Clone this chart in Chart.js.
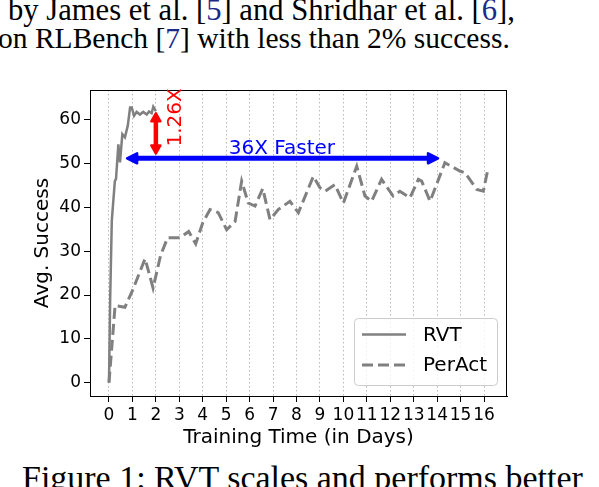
<!DOCTYPE html>
<html><head><meta charset="utf-8">
<script src="https://cdn.jsdelivr.net/npm/chart.js@4/dist/chart.umd.min.js"></script>
<style>
html,body{margin:0;padding:0;background:#fff;overflow:hidden}
#wrap{position:relative;width:599px;height:487px;overflow:hidden;background:#fff}
canvas{position:absolute;left:0;top:0}
.t{position:absolute;font-family:"Liberation Serif","Times New Roman",serif;white-space:nowrap;color:#000;line-height:1;top:0;left:0}
.c{color:#1a2a8a}
</style></head><body>
<div id="wrap">
<div class="t" id="l1" data-l="8" data-r="515" data-b="21">by James et al. [<span class="c">5</span>] and Shridhar et al. [<span class="c">6</span>],</div>
<div class="t" id="l2" data-l="-2" data-r="510" data-b="49">on RLBench [<span class="c">7</span>] with less than 2% success.</div>
<div class="t" id="l3" data-l="22" data-r="583" data-b="489">Figure 1: RVT scales and performs better</div>
<canvas id="c" width="599" height="487"></canvas>
</div>
<script>
// ---- data ----
const rvtDays    = [0, 0.05, 0.12, 0.25, 0.30, 0.40, 0.47, 0.57, 0.68, 0.80, 0.90, 0.97, 1.07, 1.18, 1.32, 1.46, 1.61, 1.71, 1.82, 1.89, 2.00];
const rvtSuccess = [0, 19, 37, 46, 46.5, 54.4, 50.3, 56.7, 56, 58.6, 62.8, 62.8, 60.9, 61.8, 61.2, 61.8, 61.2, 61.9, 61.5, 63, 62];
const peractDays    = [0, 0.26, 0.68, 1.0, 1.54, 1.88, 2.2, 2.5, 3.03, 3.4, 3.7, 4.0, 4.31, 4.66, 5.02, 5.38, 5.66, 5.94, 6.23, 6.56, 6.87, 7.22, 7.72, 8.08, 8.72, 9.0, 9.22, 9.64, 10.0, 10.57, 10.92, 11.2, 11.63, 12.12, 12.41, 12.84, 13.2, 13.34, 13.7, 14.33, 14.97, 15.19, 15.69, 15.97, 16.18];
const peractSuccess = [0, 17.6, 17.2, 21, 28.3, 21.6, 29, 33.1, 33.1, 34.5, 31.7, 36.5, 39.5, 38.8, 34.9, 36.8, 46.0, 41.0, 40.3, 44.3, 37.2, 39.5, 41.4, 38.8, 47.1, 44.5, 43.7, 45.2, 41.0, 49.4, 42.6, 41.4, 46.4, 42.6, 43.7, 42.2, 46.4, 46, 41.4, 50.2, 48.3, 47.9, 44.1, 43.7, 49.1];
const xTickLabels = [0,1,2,3,4,5,6,7,8,9,10,11,12,13,14,15,16];
const yTickLabels = [0,10,20,30,40,50,60];
const seriesNames = ['RVT', 'PerAct'];
// annotation values
const fasterArrowDays = [0.73, 14.08];
const fasterArrowSuccess = 51.2;
const fasterLabel = '36X Faster';
const fasterLabelAt = [7.38, 52.1];
const gainArrowDay = 2.0;
const gainArrowSuccess = [52.1, 61.7];
const gainLabel = '1.26X';
const gainLabelAt = [3.07, 53.9];

// fit the surrounding paper text to its measured extent
document.querySelectorAll('.t').forEach(el => {
  const base = 30;
  el.style.fontSize = base + 'px';
  const w = el.getBoundingClientRect().width;
  const target = (+el.dataset.r) - (+el.dataset.l);
  const fs = base * target / w;
  el.style.fontSize = fs.toFixed(2) + 'px';
  el.style.left = el.dataset.l + 'px';
  el.style.top = ((+el.dataset.b) - fs * 0.8375) + 'px';
});

const pts = (xs, ys) => xs.map((v, i) => ({x: v, y: ys[i]}));

function doubleArrow(ctx, x1, y1, x2, y2, color, lw, hl, hw) {
  const ang = Math.atan2(y2 - y1, x2 - x1);
  const len = Math.hypot(x2 - x1, y2 - y1);
  ctx.save();
  ctx.translate(x1, y1); ctx.rotate(ang);
  ctx.strokeStyle = color; ctx.fillStyle = color;
  ctx.lineWidth = lw; ctx.lineCap = 'butt';
  ctx.beginPath(); ctx.moveTo(hl * 0.7, 0); ctx.lineTo(len - hl * 0.7, 0); ctx.stroke();
  ctx.lineJoin = 'round'; ctx.lineWidth = 2.5;
  ctx.beginPath(); ctx.moveTo(1, 0); ctx.lineTo(hl, -hw / 2); ctx.lineTo(hl, hw / 2); ctx.closePath(); ctx.fill(); ctx.stroke();
  ctx.beginPath(); ctx.moveTo(len - 1, 0); ctx.lineTo(len - hl, -hw / 2); ctx.lineTo(len - hl, hw / 2); ctx.closePath(); ctx.fill(); ctx.stroke();
  ctx.restore();
}

const annoPlugin = {
  id: 'anno',
  afterDraw(chart) {
    const {ctx, chartArea: a, scales: {x, y}} = chart;
    ctx.save();
    // top & right spines
    ctx.strokeStyle = '#000'; ctx.lineWidth = 1;
    ctx.beginPath();
    ctx.moveTo(a.left, Math.round(a.top) + 0.5); ctx.lineTo(a.right, Math.round(a.top) + 0.5);
    ctx.moveTo(Math.round(a.right) - 0.5, a.top); ctx.lineTo(Math.round(a.right) - 0.5, a.bottom);
    ctx.stroke();
    // blue arrow
    const by = y.getPixelForValue(fasterArrowSuccess);
    doubleArrow(ctx, x.getPixelForValue(fasterArrowDays[0]), by, x.getPixelForValue(fasterArrowDays[1]), by, '#0000ff', 5, 11, 10);
    ctx.fillStyle = '#0000ff';
    ctx.font = '20px "DejaVu Sans"';
    ctx.textAlign = 'center'; ctx.textBaseline = 'alphabetic';
    ctx.fillText(fasterLabel, x.getPixelForValue(fasterLabelAt[0]), y.getPixelForValue(fasterLabelAt[1]));
    // red arrow
    const rx = x.getPixelForValue(gainArrowDay);
    doubleArrow(ctx, rx, y.getPixelForValue(gainArrowSuccess[0]), rx, y.getPixelForValue(gainArrowSuccess[1]), '#ff0000', 4.5, 9, 9);
    ctx.save();
    ctx.translate(x.getPixelForValue(gainLabelAt[0]), y.getPixelForValue(gainLabelAt[1]));
    ctx.rotate(-Math.PI / 2);
    ctx.fillStyle = '#ff0000';
    ctx.textAlign = 'left'; ctx.textBaseline = 'alphabetic';
    ctx.fillText(gainLabel, 0, 0);
    ctx.restore();
    // legend
    const w = 143, h = 67;
    const lx = a.right - 10 - w, ly = a.bottom - 11 - h;
    ctx.fillStyle = 'rgba(255,255,255,0.8)';
    ctx.strokeStyle = '#cccccc'; ctx.lineWidth = 1;
    ctx.beginPath(); ctx.roundRect(lx + 0.5, ly + 0.5, w, h, 4); ctx.fill(); ctx.stroke();
    chart.data.datasets.forEach((ds, i) => {
      const yy = ly + 16.5 + i * 30.5;
      ctx.strokeStyle = ds.borderColor; ctx.lineWidth = ds.borderWidth;
      ctx.setLineDash(ds.borderDash || []);
      ctx.beginPath(); ctx.moveTo(lx + 8, yy); ctx.lineTo(lx + 52, yy); ctx.stroke();
      ctx.setLineDash([]);
      ctx.fillStyle = '#000'; ctx.font = '20px "DejaVu Sans"';
      ctx.textAlign = 'left'; ctx.textBaseline = 'middle';
      ctx.fillText(ds.label, lx + 69, yy + 1);
    });
    ctx.restore();
  }
};

const tickFont = {family: 'DejaVu Sans', size: 17};
const titleFont = {family: 'DejaVu Sans', size: 20};
new Chart(document.getElementById('c'), {
  type: 'line',
  data: {
    datasets: [
      {label: seriesNames[0], data: pts(rvtDays, rvtSuccess), borderColor: '#808080', borderWidth: 2.5, pointRadius: 0, tension: 0, fill: false},
      {label: seriesNames[1], data: pts(peractDays, peractSuccess), borderColor: '#808080', borderWidth: 3, borderDash: [11, 5], pointRadius: 0, tension: 0, fill: false}
    ]
  },
  options: {
    responsive: false, animation: false, devicePixelRatio: 1,
    layout: {padding: {left: 31, top: 90, right: 92, bottom: 37}},
    plugins: {legend: {display: false}, tooltip: {enabled: false}},
    scales: {
      x: {
        type: 'linear', min: -0.81, max: 16.98,
        afterBuildTicks: s => { s.ticks = xTickLabels.map(v => ({value: v})); },
        afterFit: s => { s.height = 54; },
        ticks: {color: '#000', font: tickFont, padding: 3, maxRotation: 0, autoSkip: false},
        grid: {drawOnChartArea: true, color: '#b8b8b8', lineWidth: 1, tickLength: 6, tickColor: '#000', tickWidth: 1},
        border: {display: true, color: '#000', width: 1, dash: [1.5, 2.5]},
        title: {display: true, text: 'Training Time (in Days)', color: '#000', font: titleFont, padding: 0}
      },
      y: {
        type: 'linear', min: -3.05, max: 66.8,
        afterBuildTicks: s => { s.ticks = yTickLabels.map(v => ({value: v})); },
        afterFit: s => { s.width = 59; },
        ticks: {color: '#000', font: tickFont, padding: 3, autoSkip: false},
        grid: {drawOnChartArea: false, tickLength: 6, tickColor: '#000', tickWidth: 1},
        border: {display: true, color: '#000', width: 1},
        title: {display: true, text: 'Avg. Success', color: '#000', font: titleFont, padding: 0}
      }
    }
  },
  plugins: [annoPlugin]
});
</script>
</body></html>
